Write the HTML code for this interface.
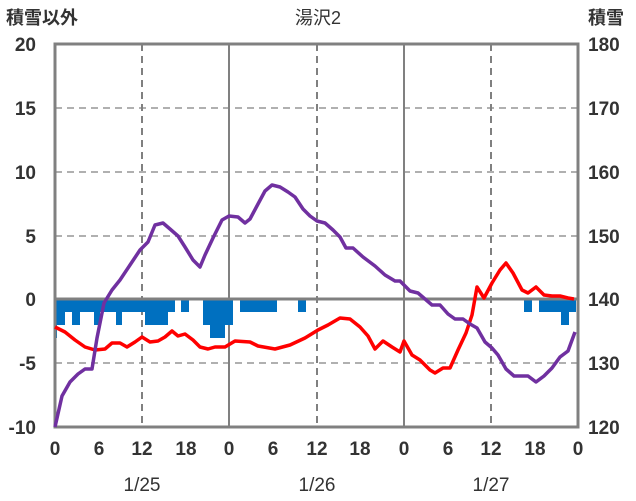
<!DOCTYPE html>
<html><head><meta charset="utf-8"><style>
html,body{margin:0;padding:0;background:#fff;}
svg{display:block;font-family:"Liberation Sans","Noto Sans CJK JP",sans-serif;}
</style></head><body>
<svg width="636" height="501" viewBox="0 0 636 501">
<rect width="636" height="501" fill="#fff"/>
<!-- grid -->
<g stroke="#808080" stroke-width="2">
<line x1="55" y1="108" x2="578" y2="108" stroke="#b0b0b0" stroke-dasharray="7,5"/>
<line x1="55" y1="172" x2="578" y2="172" stroke="#b0b0b0" stroke-dasharray="7,5"/>
<line x1="55" y1="236" x2="578" y2="236" stroke="#b0b0b0" stroke-dasharray="7,5"/>
<line x1="55" y1="363" x2="578" y2="363" stroke="#b0b0b0" stroke-dasharray="7,5"/>
<line x1="142" y1="44" x2="142" y2="427" stroke-dasharray="7,5"/>
<line x1="317" y1="44" x2="317" y2="427" stroke-dasharray="7,5"/>
<line x1="491" y1="44" x2="491" y2="427" stroke-dasharray="7,5"/>
<line x1="229" y1="44" x2="229" y2="427"/>
<line x1="404" y1="44" x2="404" y2="427"/>
</g>
<!-- bars -->
<g fill="#0070c0">
<rect x="54" y="299" width="11" height="26"/>
<rect x="54" y="299" width="3" height="39"/>
<rect x="65" y="299" width="7" height="13"/>
<rect x="72" y="299" width="8" height="26"/>
<rect x="80" y="299" width="14" height="13"/>
<rect x="94" y="299" width="6" height="26"/>
<rect x="100" y="299" width="16" height="13"/>
<rect x="116" y="299" width="6" height="26"/>
<rect x="122" y="299" width="23" height="13"/>
<rect x="145" y="299" width="23" height="26"/>
<rect x="168" y="299" width="7" height="13"/>
<rect x="181" y="299" width="8" height="13"/>
<rect x="203" y="299" width="7" height="26"/>
<rect x="210" y="299" width="15" height="39"/>
<rect x="225" y="299" width="8" height="26"/>
<rect x="240" y="299" width="37" height="13"/>
<rect x="298" y="299" width="8" height="13"/>
<rect x="524" y="299" width="8" height="13"/>
<rect x="539" y="299" width="37" height="13"/>
<rect x="561" y="299" width="8" height="26"/>
</g>
<line x1="55" y1="299" x2="578" y2="299" stroke="#808080" stroke-width="3"/>
<!-- border -->
<rect x="55" y="44" width="523" height="383" fill="none" stroke="#808080" stroke-width="3"/>
<!-- red -->
<polyline fill="none" stroke="#ff0000" stroke-width="3.5" stroke-linejoin="round" points="55,327 65,332 75,340 85,347 95,350 105,349 112,343 120,343 127,347 135,342 142,337 150,342 158,341 165,337 172,331 178,336 185,334 193,340 200,347 208,349 215,347 225,347 235,341 250,342 258,346 275,349 290,345 305,338 318,330 328,325 340,318 350,319 360,327 368,336 375,349 383,341 392,347 400,352 404,341 412,355 420,360 430,370 435,373 443,368 450,368 458,350 466,333 472,315 477,287 484,298 492,283 500,270 506,263 513,273 522,290 528,293 536,287 544,295 552,296 560,296 568,298 574,299"/>
<!-- purple -->
<polyline fill="none" stroke="#7030a0" stroke-width="3.5" stroke-linejoin="round" points="55,427 62,396 70,382 78,374 85,369 92,369 97,338 104,303 112,290 120,280 130,265 140,250 148,242 155,225 163,223 170,229 178,236 185,247 193,260 200,267 205,255 213,238 222,220 229,216 238,217 245,223 250,219 258,204 265,191 272,185 280,187 288,192 295,197 303,209 310,216 317,221 325,223 333,230 340,237 346,248 353,248 363,257 375,266 385,275 395,281 400,281 410,291 418,293 425,299 432,305 440,305 448,314 455,319 463,319 470,324 477,328 485,342 492,348 498,355 506,369 514,376 528,376 536,382 544,376 552,368 560,357 568,351 575,332"/>
<!-- labels -->
<g font-size="19" fill="#333">
<text x="6" y="24" font-weight="bold" font-size="18">積雪以外</text>
<text x="318" y="24" text-anchor="middle" font-size="18">湯沢2</text>
<text x="588" y="24" font-weight="bold" font-size="18">積雪</text>
<g text-anchor="end" font-weight="bold">
<text x="36" y="51">20</text><text x="36" y="115">15</text><text x="36" y="179">10</text>
<text x="36" y="243">5</text><text x="36" y="306">0</text><text x="36" y="370">-5</text><text x="36" y="434">-10</text>
</g>
<g font-weight="bold">
<text x="588" y="51">180</text><text x="588" y="115">170</text><text x="588" y="179">160</text>
<text x="588" y="243">150</text><text x="588" y="306">140</text><text x="588" y="370">130</text><text x="588" y="434">120</text>
</g>
<g text-anchor="middle" font-weight="bold">
<text x="55" y="455">0</text><text x="99" y="455">6</text><text x="142" y="455">12</text><text x="186" y="455">18</text>
<text x="229" y="455">0</text><text x="273" y="455">6</text><text x="317" y="455">12</text><text x="360" y="455">18</text>
<text x="404" y="455">0</text><text x="448" y="455">6</text><text x="491" y="455">12</text><text x="535" y="455">18</text>
<text x="578" y="455">0</text>
</g>
<g text-anchor="middle">
<text x="142" y="491">1/25</text><text x="317" y="491">1/26</text><text x="491" y="491">1/27</text>
</g>
</g>
</svg>
</body></html>
